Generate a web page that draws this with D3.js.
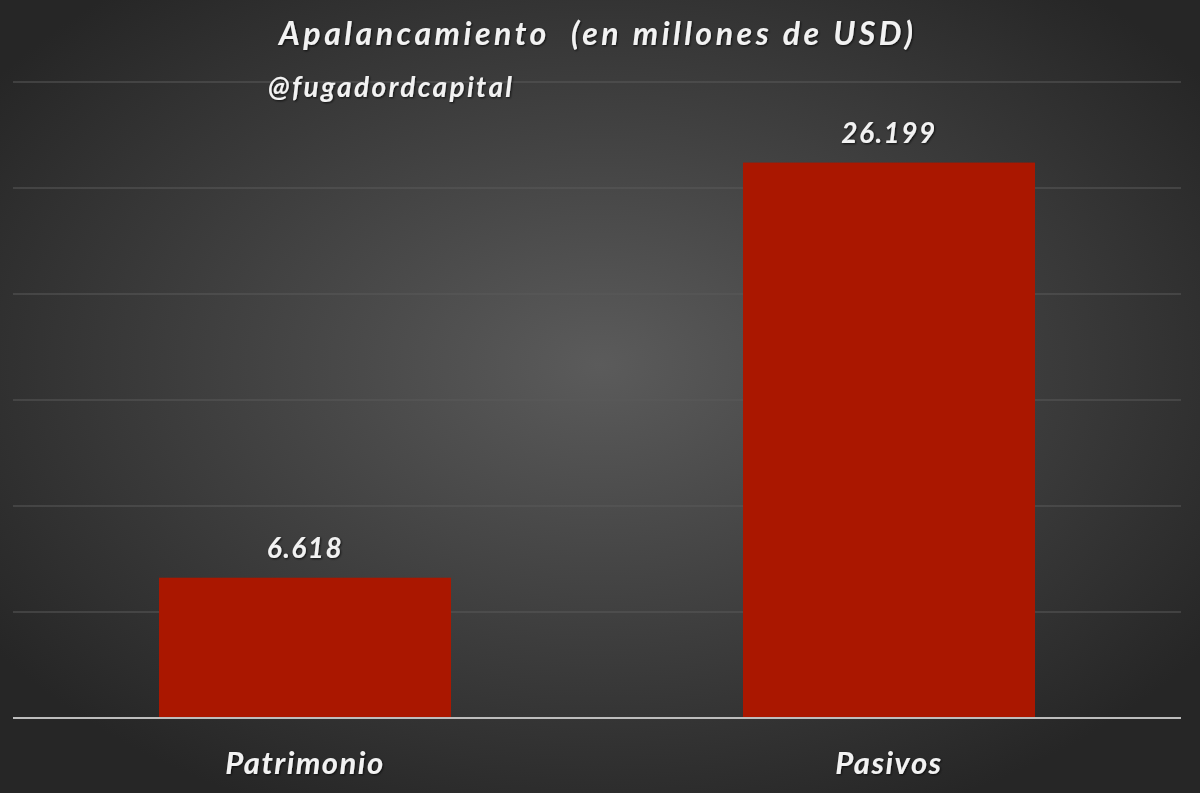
<!DOCTYPE html>
<html>
<head>
<meta charset="utf-8">
<script src="https://cdn.jsdelivr.net/npm/d3@7"></script>
<style>
  html, body { margin: 0; padding: 0; background: #2b2b2b; }
  svg { display: block; }
  .lbl { font-family: Lato, "Open Sans", sans-serif; font-weight: 700; font-style: italic; fill: #f2f2f2; }
</style>
</head>
<body>
<script>
const categories = ['Patrimonio', 'Pasivos'];
const values = [6618, 26199];
const valueLabels = ['6.618', '26.199'];
const gridTicks = [0, 5000, 10000, 15000, 20000, 25000, 30000];
const title = 'Apalancamiento  (en millones de USD)';
const handle = '@fugadordcapital';

const W = 1200, H = 793;
const plot = { left: 13, right: 1181, top: 82, bottom: 718 };

const svg = d3.select('body').append('svg')
  .attr('width', W).attr('height', H)
  .attr('viewBox', `0 0 ${W} ${H}`);

const defs = svg.append('defs');
const rg = defs.append('radialGradient')
  .attr('id', 'bg')
  .attr('cx', '50%').attr('cy', '46%')
  .attr('r', '62%');
rg.append('stop').attr('offset', 0).attr('stop-color', '#5b5b5b');
rg.append('stop').attr('offset', '100%').attr('stop-color', '#262626');

const f = defs.append('filter').attr('id', 'shadow')
  .attr('x', '-10%').attr('y', '-30%').attr('width', '120%').attr('height', '160%');
f.append('feDropShadow')
  .attr('dx', 1).attr('dy', 1).attr('stdDeviation', 1.2)
  .attr('flood-color', '#000').attr('flood-opacity', 0.7);

svg.append('rect').attr('width', W).attr('height', H).attr('fill', 'url(#bg)');

const x = d3.scaleBand()
  .domain(categories)
  .range([plot.left, plot.right])
  .paddingInner(0.5).paddingOuter(0.25);

const y = d3.scaleLinear()
  .domain([0, 30000])
  .range([plot.bottom, plot.top]);

// gridlines
svg.append('g')
  .selectAll('line')
  .data(gridTicks.filter(d => d > 0))
  .join('line')
    .attr('x1', plot.left).attr('x2', plot.right)
    .attr('y1', d => y(d)).attr('y2', d => y(d))
    .attr('stroke', '#5a5a5a')
    .attr('stroke-width', 1);

// bars
svg.append('g')
  .selectAll('rect')
  .data(values)
  .join('rect')
    .attr('x', (d, i) => x(categories[i]))
    .attr('y', d => y(d))
    .attr('width', x.bandwidth())
    .attr('height', d => y(0) - y(d))
    .attr('fill', '#aa1700');

// baseline
svg.append('line')
  .attr('x1', plot.left).attr('x2', plot.right)
  .attr('y1', y(0)).attr('y2', y(0))
  .attr('stroke', '#bdbdbd')
  .attr('stroke-width', 2);

// value labels
svg.append('g')
  .selectAll('text')
  .data(values)
  .join('text')
    .attr('class', 'lbl')
    .attr('x', (d, i) => x(categories[i]) + x.bandwidth() / 2)
    .attr('y', d => y(d) - 20)
    .attr('text-anchor', 'middle')
    .attr('font-size', 28)
    .attr('letter-spacing', 1.5)
    .attr('filter', 'url(#shadow)')
    .text((d, i) => valueLabels[i]);

// category labels
svg.append('g')
  .selectAll('text')
  .data(categories)
  .join('text')
    .attr('class', 'lbl')
    .attr('x', d => x(d) + x.bandwidth() / 2)
    .attr('y', 774)
    .attr('text-anchor', 'middle')
    .attr('font-size', 31)
    .attr('letter-spacing', 1.5)
    .attr('filter', 'url(#shadow)')
    .text(d => d);

// title
svg.append('text')
  .attr('class', 'lbl')
  .attr('x', 279).attr('y', 45)
  .attr('font-size', 32)
  .attr('textLength', 634)
  .attr('lengthAdjust', 'spacing')
  .attr('filter', 'url(#shadow)')
  .style('white-space', 'pre')
  .text(title);

svg.append('text')
  .attr('class', 'lbl')
  .attr('x', 268).attr('y', 97)
  .attr('font-size', 28)
  .attr('textLength', 244)
  .attr('lengthAdjust', 'spacing')
  .attr('filter', 'url(#shadow)')
  .text(handle);
</script>
</body>
</html>
